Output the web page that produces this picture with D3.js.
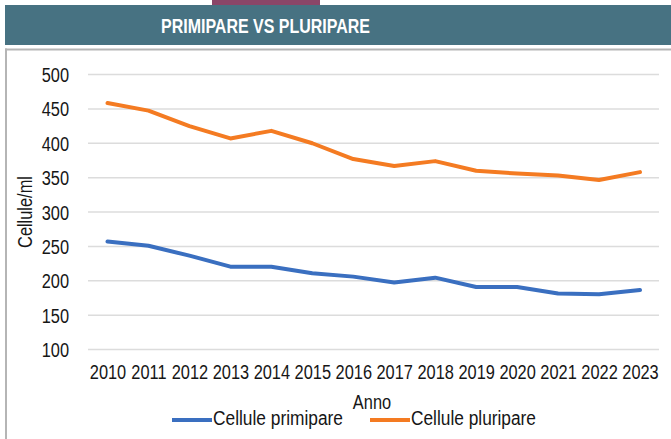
<!DOCTYPE html>
<html>
<head>
<meta charset="utf-8">
<script src="https://cdn.jsdelivr.net/npm/d3@7"></script>
<style>
  html, body { margin: 0; padding: 0; background: #ffffff; }
  svg { display: block; }
</style>
</head>
<body>
<svg id="chart" width="671" height="439"></svg>
<script>
const title = "PRIMIPARE VS PLURIPARE";
const years = ["2010","2011","2012","2013","2014","2015","2016","2017","2018","2019","2020","2021","2022","2023"];
const primipare = [257, 251, 236.5, 220.5, 220.5, 211, 206, 197.5, 204.5, 191, 191, 181.5, 180.5, 186.5];
const pluripare = [458.5, 447.5, 425, 407, 418, 400, 377, 367, 374, 360, 356, 353, 346.5, 358];
const yTicks = [100, 150, 200, 250, 300, 350, 400, 450, 500];
const seriesNames = ["Cellule primipare", "Cellule pluripare"];
const yLabel = "Cellule/ml";
const xLabel = "Anno";

const FONT = "'Liberation Sans', Arial, sans-serif";
const BLUE = "#3a6fc0", ORANGE = "#f47b22";
const TXT = "#161616";
const NARROW = 0.84;

// compress text horizontally (the reference uses a narrow face)
function narrow(sel, factor) {
  sel.each(function() {
    const len = this.getComputedTextLength();
    d3.select(this).attr("textLength", len * factor).attr("lengthAdjust", "spacingAndGlyphs");
  });
}

const svg = d3.select("#chart");

// header
svg.append("rect").attr("x", 212).attr("y", 0).attr("width", 108).attr("height", 6).attr("fill", "#8a4668");
svg.append("rect").attr("x", 5).attr("y", 5).attr("width", 666).attr("height", 40).attr("fill", "#477282");
svg.append("text").attr("x", 161).attr("y", 33)
  .attr("textLength", 209).attr("lengthAdjust", "spacingAndGlyphs")
  .attr("font-family", FONT).attr("font-weight", "bold").attr("font-size", 21)
  .attr("fill", "#ffffff").text(title);

// frame
svg.append("line").attr("x1", 5).attr("x2", 671).attr("y1", 49.5).attr("y2", 49.5)
  .attr("stroke", "#b5b5b5").attr("stroke-width", 2);
svg.append("line").attr("x1", 6).attr("x2", 6).attr("y1", 48.5).attr("y2", 439)
  .attr("stroke", "#b5b5b5").attr("stroke-width", 2);

const x = d3.scalePoint().domain(years).range([107.5, 640]);
const y = d3.scaleLinear().domain([100, 500]).range([349.5, 74.5]);

// grid
svg.append("g").selectAll("line").data(yTicks).join("line")
  .attr("x1", 88).attr("x2", 659)
  .attr("y1", d => y(d)).attr("y2", d => y(d))
  .attr("stroke", "#dcdcdc").attr("stroke-width", 1.5);

// y axis labels
const yAxis = d3.axisLeft(y).tickValues(yTicks).tickSize(0).tickPadding(0);
const gy = svg.append("g").attr("transform", "translate(69,0)").call(yAxis);
gy.select(".domain").remove();
gy.selectAll("text").attr("font-family", FONT).attr("font-size", 19.5).attr("fill", TXT).attr("dy", "0.36em");
narrow(gy.selectAll("text"), NARROW);

// x axis labels
const xAxis = d3.axisBottom(x).tickSize(0).tickPadding(0);
const gx = svg.append("g").attr("transform", "translate(0,378.5)").call(xAxis);
gx.select(".domain").remove();
gx.selectAll("text").attr("font-family", FONT).attr("font-size", 19.5).attr("fill", TXT).attr("y", 0).attr("dy", 0);
narrow(gx.selectAll("text"), NARROW);

// lines
const line = d3.line().x((d, i) => x(years[i])).y(d => y(d));
svg.append("path").datum(primipare).attr("d", line)
  .attr("fill", "none").attr("stroke", BLUE).attr("stroke-width", 4).attr("stroke-linejoin", "round").attr("stroke-linecap", "round");
svg.append("path").datum(pluripare).attr("d", line)
  .attr("fill", "none").attr("stroke", ORANGE).attr("stroke-width", 4).attr("stroke-linejoin", "round").attr("stroke-linecap", "round");

// axis titles
const yt = svg.append("text").attr("transform", "translate(31.5,212) rotate(-90)")
  .attr("text-anchor", "middle").attr("font-family", FONT).attr("font-size", 19.5).attr("fill", TXT).text(yLabel);
narrow(yt, NARROW);
const xt = svg.append("text").attr("x", 372).attr("y", 408.5)
  .attr("text-anchor", "middle").attr("font-family", FONT).attr("font-size", 19.5)
  .attr("fill", TXT).text(xLabel);
narrow(xt, NARROW);

// legend
const legend = [
  {name: seriesNames[0], color: BLUE, x0: 172, w: 130},
  {name: seriesNames[1], color: ORANGE, x0: 370, w: 125}
];
const lg = svg.append("g").selectAll("g").data(legend).join("g")
  .attr("transform", d => `translate(${d.x0},420)`);
lg.append("line").attr("x1", 0).attr("x2", 40).attr("y1", 0).attr("y2", 0)
  .attr("stroke", d => d.color).attr("stroke-width", 4);
lg.append("text").attr("x", 41).attr("y", 5)
  .attr("font-family", FONT).attr("font-size", 19.5).attr("fill", TXT)
  .attr("textLength", d => d.w).attr("lengthAdjust", "spacingAndGlyphs")
  .text(d => d.name);
</script>
</body>
</html>
